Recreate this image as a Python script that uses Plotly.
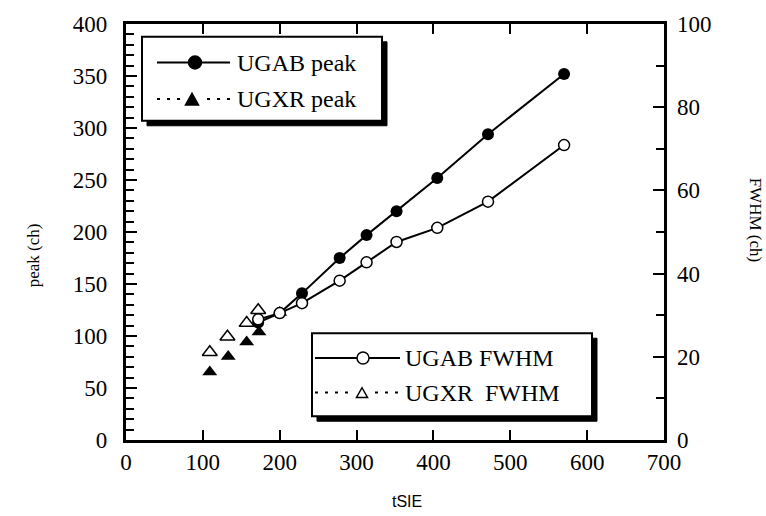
import plotly.graph_objects as go

# ---------------- data ----------------
ugab_x = [172, 200, 229, 278, 313, 352, 405, 471, 570]
ugab_peak = [113, 122, 141, 175, 197, 220, 252, 294, 352]
ugab_fwhm = [29.0, 30.5, 32.9, 38.3, 42.7, 47.6, 51.0, 57.3, 70.9]

ugxr_peak_x = [109, 133, 157, 173, 200]
ugxr_peak = [65.3, 80.3, 94.3, 103.8, 122.6]
ugxr_fwhm_x = [109, 132, 157, 172]
ugxr_fwhm = [21.1, 24.8, 28.1, 31.2]

x_ticks = [0, 100, 200, 300, 400, 500, 600, 700]
peak_ticks = [0, 50, 100, 150, 200, 250, 300, 350, 400]
fwhm_ticks = [0, 20, 40, 60, 80, 100]

# ---------------- layout geometry (pixels) ----------------
W, H = 766, 516
L, R, T, B = 126, 664, 19, 440
PW, PH = R - L, B - T


def px(x):
    return (x - L) / PW


def py(y):
    return (B - y) / PH


SERIF = "Liberation Serif, Times New Roman, serif"
SANS = "Liberation Sans, Arial, sans-serif"

fig = go.Figure()

fig.add_trace(go.Scatter(
    x=ugab_x, y=ugab_peak, mode="lines+markers", name="UGAB peak",
    line=dict(color="black", width=2),
    marker=dict(symbol="circle", size=12, color="black"),
    showlegend=False))

fig.add_trace(go.Scatter(
    x=ugxr_peak_x, y=ugxr_peak, mode="markers", name="UGXR peak",
    marker=dict(symbol="triangle-up", size=13, color="black"),
    showlegend=False))

fig.add_trace(go.Scatter(
    x=ugab_x, y=ugab_fwhm, mode="lines+markers", name="UGAB FWHM", yaxis="y2",
    line=dict(color="black", width=2),
    marker=dict(symbol="circle", size=11, color="white",
                line=dict(color="black", width=1.5)),
    showlegend=False))

fig.add_trace(go.Scatter(
    x=ugxr_fwhm_x, y=ugxr_fwhm, mode="markers", name="UGXR FWHM", yaxis="y2",
    marker=dict(symbol="triangle-up-open", size=13, color="black",
                line=dict(width=1.5)),
    showlegend=False))

axis_font = dict(family=SERIF, size=23, color="black")
NB = "\u00a0"

fig.update_layout(
    width=W, height=H,
    margin=dict(l=L, r=W - R, t=T, b=H - B, pad=0),
    paper_bgcolor="white", plot_bgcolor="white",
    xaxis=dict(range=[0, 700], tickvals=x_ticks,
               ticktext=[str(v) for v in x_ticks],
               ticks="inside", ticklen=10, tickwidth=2, tickcolor="black",
               showline=True, linewidth=2.5, linecolor="black", mirror="ticks",
               showgrid=False, zeroline=False, tickfont=axis_font),
    yaxis=dict(range=[0, 400], tickvals=peak_ticks,
               ticktext=[str(v) + NB * 2 for v in peak_ticks],
               ticks="inside", ticklen=11, tickwidth=2, tickcolor="black",
               minor=dict(dtick=10, ticks="inside", ticklen=8, tickwidth=2,
                          tickcolor="black", showgrid=False),
               showline=True, linewidth=2.5, linecolor="black",
               showgrid=False, zeroline=False, tickfont=axis_font),
    yaxis2=dict(range=[0, 100], tickvals=fwhm_ticks,
                ticktext=[NB + str(v) for v in fwhm_ticks],
                ticks="inside", ticklen=11, tickwidth=2, tickcolor="black",
                minor=dict(dtick=10, ticks="inside", ticklen=8, tickwidth=2,
                           tickcolor="black", showgrid=False),
                overlaying="y", side="right",
                showline=True, linewidth=2.5, linecolor="black",
                showgrid=False, zeroline=False, tickfont=axis_font),
)

shapes = []
annotations = []


def legend_box(x0, y0, x1, y1, off=5):
    shapes.append(dict(type="rect", xref="paper", yref="paper", layer="above",
                       x0=px(x0 + off), x1=px(x1 + off), y0=py(y1 + off), y1=py(y0 + off),
                       fillcolor="black", line=dict(color="black", width=1)))
    shapes.append(dict(type="rect", xref="paper", yref="paper", layer="above",
                       x0=px(x0), x1=px(x1), y0=py(y1), y1=py(y0),
                       fillcolor="white", line=dict(color="black", width=2)))


def sample_line(x0, x1, y, dash):
    shapes.append(dict(type="line", xref="paper", yref="paper", layer="above",
                       x0=px(x0), x1=px(x1), y0=py(y), y1=py(y),
                       line=dict(color="black", width=2, dash=dash)))


def circle(cx, cy, r, filled):
    shapes.append(dict(type="circle", xref="paper", yref="paper", layer="above",
                       x0=px(cx - r), x1=px(cx + r), y0=py(cy + r), y1=py(cy - r),
                       fillcolor="black" if filled else "white",
                       line=dict(color="black", width=1.5)))


def triangle(cx, cy, s, filled):
    h = s * 0.9
    path = (f"M {px(cx - s / 2)},{py(cy + h / 2)} L {px(cx + s / 2)},{py(cy + h / 2)} "
            f"L {px(cx)},{py(cy - h / 2)} Z")
    shapes.append(dict(type="path", xref="paper", yref="paper", layer="above",
                       path=path, fillcolor="black" if filled else "white",
                       line=dict(color="black", width=1.5)))


def label(x, y, text, size=24):
    annotations.append(dict(xref="paper", yref="paper", x=px(x), y=py(y), text=text,
                            showarrow=False, xanchor="left", yanchor="middle",
                            font=dict(family=SERIF, size=size, color="black")))


DOT = "3px,7px"

# legend 1 (top-left)
legend_box(142, 32, 382, 117)
sample_line(157, 230, 58, "solid")
circle(195, 58, 6.5, True)
label(235, 58, "UGAB peak")
sample_line(157, 230, 95, DOT)
shapes.append(dict(type="rect", xref="paper", yref="paper", layer="above",
                   x0=px(185), x1=px(200), y0=py(103), y1=py(87),
                   fillcolor="white", line=dict(width=0)))
triangle(192, 95, 13, True)
label(235, 95, "UGXR peak")

# legend 2 (bottom-right)
legend_box(312, 332, 592, 416)
sample_line(315, 400, 357, "solid")
circle(363, 357, 6, False)
label(403, 357, "UGAB FWHM")
sample_line(315, 400, 392, DOT)
shapes.append(dict(type="rect", xref="paper", yref="paper", layer="above",
                   x0=px(354), x1=px(370), y0=py(400), y1=py(384),
                   fillcolor="white", line=dict(width=0)))
triangle(362, 392, 11, False)
label(403, 392, "UGXR\u00a0 FWHM")

# axis titles
annotations.append(dict(xref="paper", yref="paper", x=px(33), y=py(253), text="peak (ch)",
                        showarrow=False, textangle=-90, xanchor="center", yanchor="middle",
                        font=dict(family=SERIF, size=17, color="black")))
annotations.append(dict(xref="paper", yref="paper", x=px(755), y=py(217), text="FWHM (ch)",
                        showarrow=False, textangle=90, xanchor="center", yanchor="middle",
                        font=dict(family=SERIF, size=17, color="black")))
annotations.append(dict(xref="paper", yref="paper", x=px(407), y=py(502), text="tSIE",
                        showarrow=False, xanchor="center", yanchor="middle",
                        font=dict(family=SANS, size=16, color="black")))

fig.update_layout(shapes=shapes, annotations=annotations)

fig.write_html("out.html")
